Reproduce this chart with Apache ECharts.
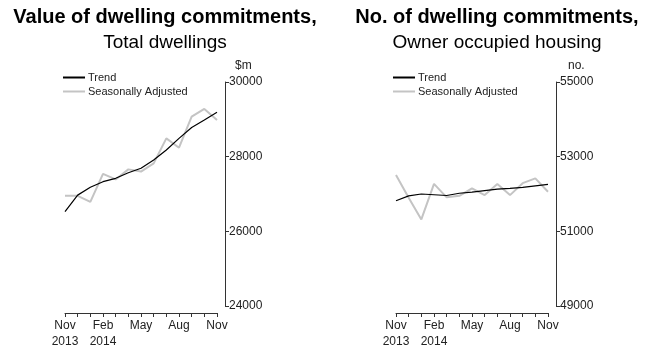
<!DOCTYPE html>
<html>
<head>
<meta charset="utf-8">
<script src="https://cdn.jsdelivr.net/npm/echarts@6/dist/echarts.min.js"></script>
<style>html,body{margin:0;padding:0;background:#fff}#c{width:650px;height:360px}</style>
</head>
<body>
<div id="c"></div>
<script>
var months = ['Nov\n2013','Dec','Jan','Feb\n2014','Mar','Apr','May','Jun','Jul','Aug','Sep','Oct','Nov'];
var valueTrend = [26530, 26970, 27180, 27330, 27420, 27570, 27690, 27910, 28180, 28490, 28780, 28980, 29190];
var valueSA    = [26950, 26950, 26790, 27540, 27390, 27660, 27600, 27820, 28490, 28240, 29070, 29280, 28980];
var ownerTrend = [51820, 51950, 52000, 51980, 51960, 52020, 52050, 52090, 52130, 52150, 52180, 52220, 52260];
var ownerSA    = [52510, 51900, 51320, 52270, 51910, 51950, 52150, 51970, 52270, 51970, 52290, 52420, 52060];
var leftTicks  = {min: 24000, max: 30000, interval: 2000};
var rightTicks = {min: 49000, max: 55000, interval: 2000};

var FONT = 'Liberation Sans, Arial, sans-serif';
var chart = echarts.init(document.getElementById('c'), null, {renderer: 'canvas'});

function xAxis(gi) {
  return {
    gridIndex: gi, type: 'category', data: months, boundaryGap: false,
    position: 'bottom', offset: 7,
    axisLine: {lineStyle: {color: '#333', width: 1}},
    axisTick: {show: true, interval: 0, length: 4, lineStyle: {color: '#333'}},
    axisLabel: {interval: 2, color: '#222', fontFamily: FONT, fontSize: 12, lineHeight: 16, margin: 5},
    splitLine: {show: false}
  };
}
function yAxis(gi, t, name, pad) {
  return {
    gridIndex: gi, type: 'value', position: 'right', offset: 8,
    min: t.min, max: t.max, interval: t.interval,
    name: name, nameLocation: 'end', nameGap: 10,
    nameTextStyle: {color: '#222', fontFamily: FONT, fontSize: 12, align: 'left', padding: [0, 0, 0, pad]},
    axisLine: {show: true, lineStyle: {color: '#333', width: 1}},
    axisTick: {show: true, length: 4, lineStyle: {color: '#333'}},
    axisLabel: {color: '#222', fontFamily: FONT, fontSize: 12, margin: 4, formatter: function (v) { return String(v); }},
    splitLine: {show: false}
  };
}
function legend(left) {
  return {
    left: left, top: 67, orient: 'vertical', itemWidth: 22, itemHeight: 2, itemGap: 3,
    data: [
      {name: 'Trend', icon: 'rect', itemStyle: {color: '#000'}},
      {name: 'Seasonally Adjusted', icon: 'rect', itemStyle: {color: '#c4c4c4'}}
    ],
    textStyle: {fontFamily: FONT, fontSize: 11, color: '#222', padding: [0, 0, 0, -2]},
    selectedMode: false
  };
}
function series(name, gi, data, color, width, z) {
  return {
    name: name, type: 'line', xAxisIndex: gi, yAxisIndex: gi, data: data,
    symbol: 'none', smooth: false, z: z,
    lineStyle: {color: color, width: width}, itemStyle: {color: color},
    emphasis: {disabled: true}, animation: false
  };
}

chart.setOption({
  animation: false,
  title: [
    {text: 'Value of dwelling commitments,', subtext: 'Total dwellings', left: 160, top: 2, textAlign: 'center', itemGap: 6,
     textStyle: {fontFamily: FONT, fontSize: 20, fontWeight: 'bold', color: '#000'},
     subtextStyle: {fontFamily: FONT, fontSize: 19, color: '#000'}},
    {text: 'No. of dwelling commitments,', subtext: 'Owner occupied housing', left: 492, top: 2, textAlign: 'center', itemGap: 6,
     textStyle: {fontFamily: FONT, fontSize: 20, fontWeight: 'bold', color: '#000'},
     subtextStyle: {fontFamily: FONT, fontSize: 19, color: '#000'}}
  ],
  legend: [legend(58), legend(388)],
  grid: [
    {left: 65, top: 82, width: 152, height: 224, containLabel: false},
    {left: 396, top: 82, width: 152, height: 224, containLabel: false}
  ],
  xAxis: [xAxis(0), xAxis(1)],
  yAxis: [yAxis(0, leftTicks, '$m', 10), yAxis(1, rightTicks, 'no.', 12)],
  series: [
    series('Trend', 0, valueTrend, '#000', 1.2, 3),
    series('Seasonally Adjusted', 0, valueSA, '#c4c4c4', 2, 2),
    series('Trend', 1, ownerTrend, '#000', 1.2, 3),
    series('Seasonally Adjusted', 1, ownerSA, '#c4c4c4', 2, 2)
  ]
});
</script>
</body>
</html>
